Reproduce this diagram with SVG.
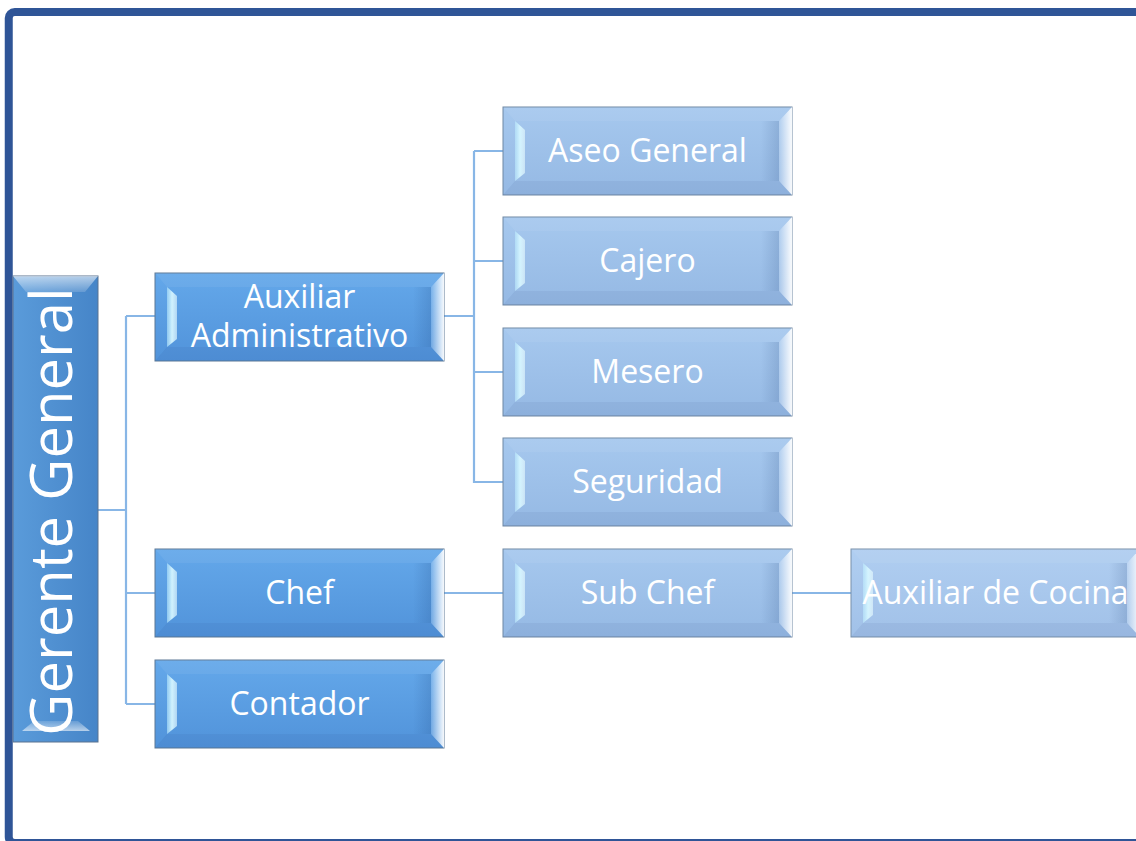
<svg xmlns="http://www.w3.org/2000/svg" xmlns:xlink="http://www.w3.org/1999/xlink" width="1136" height="841" viewBox="0 0 1136 841">
  <style>
    .t { font-family: "Open Sans", "Liberation Sans", sans-serif; font-size: 32px; fill: #ffffff; text-anchor: middle; }
    .tg { font-family: "Open Sans", "Liberation Sans", sans-serif; font-size: 58px; fill: #ffffff; text-anchor: middle; }
    .c2 { fill: url(#g2); stroke: #5d7896; stroke-width: 1; }
    .c3 { fill: url(#g3); stroke: #6f87a3; stroke-width: 1; }
    .c4 { fill: url(#g4); stroke: #7890aa; stroke-width: 1; }
    .cg { fill: url(#gG); stroke: #5a7390; stroke-width: 1; }
    .ln { fill: none; stroke: #88b6e6; stroke-width: 2.2; }
  </style>
  <defs>
    <linearGradient id="g2" x1="0" y1="0" x2="0" y2="1">
      <stop offset="0" stop-color="#64a8ea"/>
      <stop offset="1" stop-color="#5193da"/>
    </linearGradient>
    <linearGradient id="g3" x1="0" y1="0" x2="0" y2="1">
      <stop offset="0" stop-color="#a6c8ee"/>
      <stop offset="1" stop-color="#95b9e4"/>
    </linearGradient>
    <linearGradient id="g4" x1="0" y1="0" x2="0" y2="1">
      <stop offset="0" stop-color="#b0cef1"/>
      <stop offset="1" stop-color="#a1c1e8"/>
    </linearGradient>
    <linearGradient id="gG" x1="0" y1="0" x2="1" y2="0">
      <stop offset="0" stop-color="#5a9bda"/>
      <stop offset="1" stop-color="#4685c8"/>
    </linearGradient>
    <linearGradient id="bl" x1="0" y1="0" x2="1" y2="0">
      <stop offset="0" stop-color="#bfeeff" stop-opacity="0.55"/>
      <stop offset="0.5" stop-color="#d6f6ff" stop-opacity="0.95"/>
      <stop offset="1" stop-color="#e8fbff" stop-opacity="0.6"/>
    </linearGradient>
    <linearGradient id="br" x1="0" y1="0" x2="1" y2="0">
      <stop offset="0" stop-color="#ffffff" stop-opacity="0.15"/>
      <stop offset="1" stop-color="#ffffff" stop-opacity="0.95"/>
    </linearGradient>
    <linearGradient id="sh" x1="0" y1="0" x2="1" y2="0">
      <stop offset="0" stop-color="#0a2a60" stop-opacity="0"/>
      <stop offset="1" stop-color="#0a2a60" stop-opacity="0.14"/>
    </linearGradient>
    <linearGradient id="bt" x1="0" y1="0" x2="0" y2="1">
      <stop offset="0" stop-color="#ffffff" stop-opacity="0.6"/>
      <stop offset="1" stop-color="#ffffff" stop-opacity="0.15"/>
    </linearGradient>
    <linearGradient id="bb" x1="0" y1="0" x2="0" y2="1">
      <stop offset="0" stop-color="#ffffff" stop-opacity="0.15"/>
      <stop offset="1" stop-color="#ffffff" stop-opacity="0.6"/>
    </linearGradient>
    <g id="bev">
      <polygon points="0,0 289,0 276,14 12,14" fill="#ffffff" fill-opacity="0.06"/>
      <polygon points="12,74 276,74 289,88 0,88" fill="#0a2a60" fill-opacity="0.06"/>
      <polygon points="258,14 276,14 276,74 258,74" fill="url(#sh)"/>
      <polygon points="12,14 22,23 22,66 12,74" fill="url(#bl)"/>
      <polygon points="289,0 276,14 276,74 289,88" fill="url(#br)"/>
    </g>
  </defs>

  <rect x="0" y="0" width="1136" height="841" fill="#ffffff"/>

  <!-- frame -->
  <rect x="8.75" y="12" width="1200" height="831" rx="6" fill="none" stroke="#2f5597" stroke-width="8"/>

  <g id="connectors">
    <path class="ln" d="M98,510 H126 M126,316 V704 M126,316 H155 M126,593 H155 M126,704 H155"/>
    <path class="ln" d="M444,316 H474 M474,151 V483 M474,151 H503 M474,261 H503 M474,372 H503 M474,482 H503"/>
    <path class="ln" d="M444,593 H503"/>
    <path class="ln" d="M792,593 H851"/>
  </g>

  <g id="n-gerente">
    <rect class="cg" x="13" y="276" width="85" height="466"/>
    <polygon points="13,276 98,276 85,292 26,292" fill="url(#bt)"/>
    <polygon points="34,721 78,721 90,731 22,731" fill="url(#bb)"/>
    <text class="tg" transform="translate(72,511.5) rotate(-90)" x="0" y="0">Gerente General</text>
  </g>

  <g id="n-auxadmin">
    <rect class="c2" x="155" y="273" width="289" height="88"/>
    <use xlink:href="#bev" x="155" y="273"/>
    <text class="t" x="299.5" y="308">Auxiliar</text>
    <text class="t" x="299.5" y="347">Administrativo</text>
  </g>

  <g id="n-chef">
    <rect class="c2" x="155" y="549" width="289" height="88"/>
    <use xlink:href="#bev" x="155" y="549"/>
    <text class="t" x="299.5" y="604">Chef</text>
  </g>

  <g id="n-contador">
    <rect class="c2" x="155" y="660" width="289" height="88"/>
    <use xlink:href="#bev" x="155" y="660"/>
    <text class="t" x="299.5" y="715">Contador</text>
  </g>

  <g id="n-aseo">
    <rect class="c3" x="503" y="107" width="289" height="88"/>
    <use xlink:href="#bev" x="503" y="107"/>
    <text class="t" x="647.5" y="162">Aseo General</text>
  </g>

  <g id="n-cajero">
    <rect class="c3" x="503" y="217" width="289" height="88"/>
    <use xlink:href="#bev" x="503" y="217"/>
    <text class="t" x="647.5" y="272">Cajero</text>
  </g>

  <g id="n-mesero">
    <rect class="c3" x="503" y="328" width="289" height="88"/>
    <use xlink:href="#bev" x="503" y="328"/>
    <text class="t" x="647.5" y="383">Mesero</text>
  </g>

  <g id="n-seguridad">
    <rect class="c3" x="503" y="438" width="289" height="88"/>
    <use xlink:href="#bev" x="503" y="438"/>
    <text class="t" x="647.5" y="493">Seguridad</text>
  </g>

  <g id="n-subchef">
    <rect class="c3" x="503" y="549" width="289" height="88"/>
    <use xlink:href="#bev" x="503" y="549"/>
    <text class="t" x="647.5" y="604">Sub Chef</text>
  </g>

  <g id="n-auxcocina">
    <rect class="c4" x="851" y="549" width="289" height="88"/>
    <use xlink:href="#bev" x="851" y="549"/>
    <text class="t" x="995.5" y="604">Auxiliar de Cocina</text>
  </g>
</svg>
